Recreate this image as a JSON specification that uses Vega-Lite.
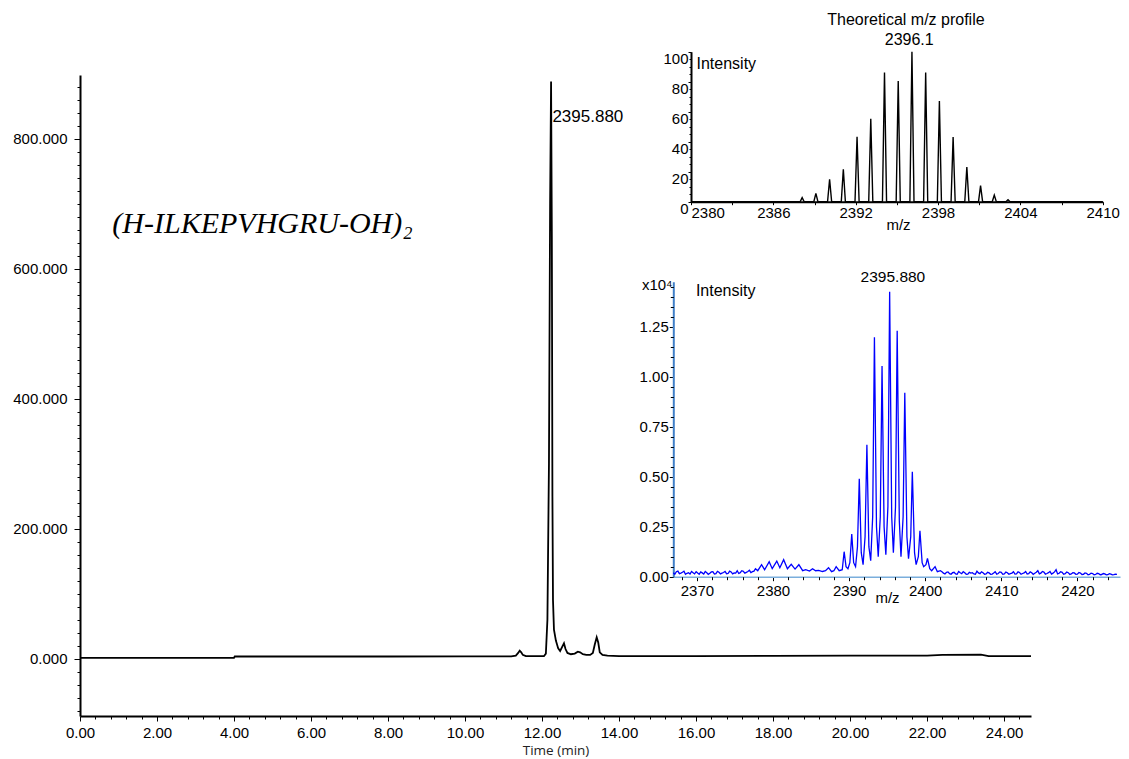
{
  "$schema": "https://vega.github.io/schema/vega-lite/v6.json",
  "width": 951,
  "height": 641,
  "autosize": {"type": "none"},
  "padding": {"left": 80, "top": 75, "right": 98, "bottom": 43},
  "background": "white",
  "config": {
    "view": {"stroke": null},
    "axis": {
      "grid": false,
      "labelFont": "Liberation Sans",
      "titleFont": "Liberation Sans",
      "labelColor": "black",
      "titleColor": "black",
      "titleFontWeight": "normal",
      "domainColor": "black",
      "tickColor": "black",
      "labelFlush": false,
      "labelOverlap": false,
      "labelBound": false,
      "labelFontSize": 15
    },
    "text": {"font": "Liberation Sans"}
  },
  "datasets": {
    "chrom": [
      {"time": 0, "intensity": 1.5}, {"time": 4.0, "intensity": 1.5}, {"time": 4.02, "intensity": 3.5},
      {"time": 6, "intensity": 3.5}, {"time": 8, "intensity": 3.5}, {"time": 10, "intensity": 3.6},
      {"time": 11.2, "intensity": 3.8}, {"time": 11.32, "intensity": 5}, {"time": 11.38, "intensity": 9},
      {"time": 11.42, "intensity": 12.5}, {"time": 11.46, "intensity": 10}, {"time": 11.5, "intensity": 6},
      {"time": 11.58, "intensity": 4}, {"time": 12.05, "intensity": 4}, {"time": 12.1, "intensity": 8},
      {"time": 12.14, "intensity": 60}, {"time": 12.18, "intensity": 300}, {"time": 12.21, "intensity": 700},
      {"time": 12.235, "intensity": 888}, {"time": 12.255, "intensity": 650}, {"time": 12.27, "intensity": 250},
      {"time": 12.285, "intensity": 90}, {"time": 12.31, "intensity": 45}, {"time": 12.36, "intensity": 28},
      {"time": 12.42, "intensity": 16}, {"time": 12.47, "intensity": 12}, {"time": 12.52, "intensity": 18},
      {"time": 12.57, "intensity": 24}, {"time": 12.61, "intensity": 15}, {"time": 12.66, "intensity": 9},
      {"time": 12.75, "intensity": 7}, {"time": 12.85, "intensity": 8}, {"time": 12.93, "intensity": 11},
      {"time": 12.99, "intensity": 10}, {"time": 13.06, "intensity": 7}, {"time": 13.15, "intensity": 6},
      {"time": 13.25, "intensity": 6}, {"time": 13.32, "intensity": 9}, {"time": 13.37, "intensity": 22},
      {"time": 13.42, "intensity": 33}, {"time": 13.46, "intensity": 25}, {"time": 13.5, "intensity": 10},
      {"time": 13.57, "intensity": 6}, {"time": 13.7, "intensity": 5}, {"time": 14, "intensity": 4},
      {"time": 16, "intensity": 4}, {"time": 18, "intensity": 4.5}, {"time": 20, "intensity": 5},
      {"time": 21, "intensity": 4.8}, {"time": 22, "intensity": 5}, {"time": 22.4, "intensity": 6},
      {"time": 23.4, "intensity": 6.3}, {"time": 23.6, "intensity": 4}, {"time": 24.7, "intensity": 4}
    ],
    "theory": [
      {"mz": 2380, "rel": 0},
      {"mz": 2387.95, "rel": 0}, {"mz": 2388.1, "rel": 2.7}, {"mz": 2388.25, "rel": 0},
      {"mz": 2388.95, "rel": 0}, {"mz": 2389.1, "rel": 5.6}, {"mz": 2389.25, "rel": 0},
      {"mz": 2389.95, "rel": 0}, {"mz": 2390.1, "rel": 14.9}, {"mz": 2390.25, "rel": 0},
      {"mz": 2390.95, "rel": 0}, {"mz": 2391.1, "rel": 21.6}, {"mz": 2391.25, "rel": 0},
      {"mz": 2391.95, "rel": 0}, {"mz": 2392.1, "rel": 43.3}, {"mz": 2392.25, "rel": 0},
      {"mz": 2392.95, "rel": 0}, {"mz": 2393.1, "rel": 55.3}, {"mz": 2393.25, "rel": 0},
      {"mz": 2393.95, "rel": 0}, {"mz": 2394.1, "rel": 86.2}, {"mz": 2394.25, "rel": 0},
      {"mz": 2394.95, "rel": 0}, {"mz": 2395.1, "rel": 80.4}, {"mz": 2395.25, "rel": 0},
      {"mz": 2395.95, "rel": 0}, {"mz": 2396.1, "rel": 100}, {"mz": 2396.25, "rel": 0},
      {"mz": 2396.95, "rel": 0}, {"mz": 2397.1, "rel": 86.2}, {"mz": 2397.25, "rel": 0},
      {"mz": 2397.95, "rel": 0}, {"mz": 2398.1, "rel": 67.1}, {"mz": 2398.25, "rel": 0},
      {"mz": 2398.95, "rel": 0}, {"mz": 2399.1, "rel": 43.1}, {"mz": 2399.25, "rel": 0},
      {"mz": 2399.95, "rel": 0}, {"mz": 2400.1, "rel": 23.1}, {"mz": 2400.25, "rel": 0},
      {"mz": 2400.95, "rel": 0}, {"mz": 2401.1, "rel": 10.7}, {"mz": 2401.25, "rel": 0},
      {"mz": 2401.95, "rel": 0}, {"mz": 2402.1, "rel": 4.4}, {"mz": 2402.25, "rel": 0},
      {"mz": 2402.95, "rel": 0}, {"mz": 2403.1, "rel": 1.3}, {"mz": 2403.25, "rel": 0},
      {"mz": 2410, "rel": 0}
    ],
    "measured": [
      {"mz": 2366.9, "int": 0.02}, {"mz": 2367.3, "int": 0.025}, {"mz": 2367.7, "int": 0.015}, {"mz": 2368.1, "int": 0.022},
      {"mz": 2368.5, "int": 0.012}, {"mz": 2368.9, "int": 0.02}, {"mz": 2369.3, "int": 0.026}, {"mz": 2369.7, "int": 0.014},
      {"mz": 2370.1, "int": 0.018}, {"mz": 2370.5, "int": 0.024}, {"mz": 2370.9, "int": 0.013}, {"mz": 2371.3, "int": 0.02},
      {"mz": 2371.7, "int": 0.017}, {"mz": 2372.1, "int": 0.025}, {"mz": 2372.5, "int": 0.015}, {"mz": 2372.9, "int": 0.022},
      {"mz": 2373.3, "int": 0.018}, {"mz": 2373.7, "int": 0.026}, {"mz": 2374.1, "int": 0.016}, {"mz": 2374.5, "int": 0.024},
      {"mz": 2374.9, "int": 0.019}, {"mz": 2375.3, "int": 0.03}, {"mz": 2375.7, "int": 0.02}, {"mz": 2376.1, "int": 0.027},
      {"mz": 2376.5, "int": 0.022}, {"mz": 2376.9, "int": 0.032}, {"mz": 2377.3, "int": 0.025}, {"mz": 2377.7, "int": 0.04},
      {"mz": 2378.0, "int": 0.03}, {"mz": 2378.5, "int": 0.06}, {"mz": 2378.9, "int": 0.035}, {"mz": 2379.5, "int": 0.075},
      {"mz": 2379.9, "int": 0.04}, {"mz": 2380.5, "int": 0.078}, {"mz": 2380.9, "int": 0.045}, {"mz": 2381.4, "int": 0.085},
      {"mz": 2381.9, "int": 0.04}, {"mz": 2382.4, "int": 0.062}, {"mz": 2382.9, "int": 0.038}, {"mz": 2383.4, "int": 0.06},
      {"mz": 2383.9, "int": 0.03}, {"mz": 2384.3, "int": 0.035}, {"mz": 2384.8, "int": 0.028}, {"mz": 2385.2, "int": 0.04},
      {"mz": 2385.6, "int": 0.03}, {"mz": 2386.0, "int": 0.032}, {"mz": 2386.5, "int": 0.026}, {"mz": 2386.9, "int": 0.03},
      {"mz": 2387.3, "int": 0.045}, {"mz": 2387.7, "int": 0.025}, {"mz": 2388.0, "int": 0.03}, {"mz": 2388.3, "int": 0.05},
      {"mz": 2388.7, "int": 0.03}, {"mz": 2389.1, "int": 0.035}, {"mz": 2389.35, "int": 0.125}, {"mz": 2389.6, "int": 0.05},
      {"mz": 2389.85, "int": 0.04}, {"mz": 2390.1, "int": 0.07}, {"mz": 2390.35, "int": 0.213}, {"mz": 2390.6, "int": 0.07},
      {"mz": 2390.85, "int": 0.05}, {"mz": 2391.1, "int": 0.15}, {"mz": 2391.34, "int": 0.49}, {"mz": 2391.6, "int": 0.12},
      {"mz": 2391.84, "int": 0.06}, {"mz": 2392.1, "int": 0.2}, {"mz": 2392.34, "int": 0.66}, {"mz": 2392.6, "int": 0.15},
      {"mz": 2392.84, "int": 0.08}, {"mz": 2393.1, "int": 0.3}, {"mz": 2393.33, "int": 1.197}, {"mz": 2393.6, "int": 0.25},
      {"mz": 2393.83, "int": 0.1}, {"mz": 2394.1, "int": 0.3}, {"mz": 2394.33, "int": 1.053}, {"mz": 2394.6, "int": 0.25},
      {"mz": 2394.83, "int": 0.11}, {"mz": 2395.1, "int": 0.35}, {"mz": 2395.33, "int": 1.425}, {"mz": 2395.6, "int": 0.3},
      {"mz": 2395.82, "int": 0.12}, {"mz": 2396.1, "int": 0.35}, {"mz": 2396.32, "int": 1.23}, {"mz": 2396.6, "int": 0.28},
      {"mz": 2396.82, "int": 0.1}, {"mz": 2397.1, "int": 0.3}, {"mz": 2397.32, "int": 0.92}, {"mz": 2397.6, "int": 0.2},
      {"mz": 2397.81, "int": 0.09}, {"mz": 2398.1, "int": 0.2}, {"mz": 2398.31, "int": 0.525}, {"mz": 2398.6, "int": 0.12},
      {"mz": 2398.81, "int": 0.06}, {"mz": 2399.1, "int": 0.1}, {"mz": 2399.31, "int": 0.23}, {"mz": 2399.6, "int": 0.07},
      {"mz": 2399.8, "int": 0.05}, {"mz": 2400.1, "int": 0.06}, {"mz": 2400.3, "int": 0.092}, {"mz": 2400.6, "int": 0.04},
      {"mz": 2400.85, "int": 0.03}, {"mz": 2401.3, "int": 0.05}, {"mz": 2401.6, "int": 0.025}, {"mz": 2402.0, "int": 0.03},
      {"mz": 2402.4, "int": 0.018}, {"mz": 2402.8, "int": 0.022}, {"mz": 2403.2, "int": 0.015}, {"mz": 2403.6, "int": 0.02},
      {"mz": 2404.0, "int": 0.014}, {"mz": 2404.4, "int": 0.026}, {"mz": 2404.8, "int": 0.015}, {"mz": 2405.2, "int": 0.02},
      {"mz": 2405.6, "int": 0.013}, {"mz": 2406.0, "int": 0.018}, {"mz": 2406.4, "int": 0.014}, {"mz": 2406.8, "int": 0.028},
      {"mz": 2407.2, "int": 0.015}, {"mz": 2407.6, "int": 0.02}, {"mz": 2408.0, "int": 0.014}, {"mz": 2408.4, "int": 0.019},
      {"mz": 2408.8, "int": 0.013}, {"mz": 2409.2, "int": 0.025}, {"mz": 2409.6, "int": 0.016}, {"mz": 2410.0, "int": 0.022},
      {"mz": 2410.4, "int": 0.014}, {"mz": 2410.8, "int": 0.02}, {"mz": 2411.2, "int": 0.015}, {"mz": 2411.6, "int": 0.025},
      {"mz": 2412.0, "int": 0.014}, {"mz": 2412.4, "int": 0.021}, {"mz": 2412.8, "int": 0.016}, {"mz": 2413.2, "int": 0.026},
      {"mz": 2413.6, "int": 0.015}, {"mz": 2414.0, "int": 0.02}, {"mz": 2414.4, "int": 0.017}, {"mz": 2414.8, "int": 0.03},
      {"mz": 2415.2, "int": 0.018}, {"mz": 2415.6, "int": 0.023}, {"mz": 2416.0, "int": 0.016}, {"mz": 2416.4, "int": 0.026},
      {"mz": 2416.8, "int": 0.018}, {"mz": 2417.2, "int": 0.035}, {"mz": 2417.6, "int": 0.017}, {"mz": 2418.0, "int": 0.022},
      {"mz": 2418.4, "int": 0.015}, {"mz": 2418.8, "int": 0.02}, {"mz": 2419.2, "int": 0.014}, {"mz": 2419.6, "int": 0.019},
      {"mz": 2420.0, "int": 0.013}, {"mz": 2420.4, "int": 0.018}, {"mz": 2420.8, "int": 0.012}, {"mz": 2421.2, "int": 0.017},
      {"mz": 2421.6, "int": 0.012}, {"mz": 2422.0, "int": 0.016}, {"mz": 2422.4, "int": 0.011}, {"mz": 2422.8, "int": 0.015},
      {"mz": 2423.2, "int": 0.011}, {"mz": 2423.6, "int": 0.014}, {"mz": 2424.0, "int": 0.01}, {"mz": 2424.4, "int": 0.013},
      {"mz": 2424.8, "int": 0.01}, {"mz": 2425.2, "int": 0.012},
      {"mz": 2367.1, "int": 0.012}, {"mz": 2367.5, "int": 0.028}, {"mz": 2367.9, "int": 0.018}, {"mz": 2368.3, "int": 0.027},
      {"mz": 2368.7, "int": 0.017}, {"mz": 2369.1, "int": 0.013}, {"mz": 2369.5, "int": 0.02}, {"mz": 2369.9, "int": 0.025},
      {"mz": 2370.3, "int": 0.012}, {"mz": 2370.7, "int": 0.019}, {"mz": 2371.1, "int": 0.026}, {"mz": 2371.5, "int": 0.012},
      {"mz": 2371.9, "int": 0.024}, {"mz": 2372.3, "int": 0.013}, {"mz": 2372.7, "int": 0.027}, {"mz": 2373.1, "int": 0.014},
      {"mz": 2373.5, "int": 0.021}, {"mz": 2373.9, "int": 0.015}, {"mz": 2374.3, "int": 0.028}, {"mz": 2374.7, "int": 0.014},
      {"mz": 2375.1, "int": 0.018}, {"mz": 2375.5, "int": 0.016}, {"mz": 2375.9, "int": 0.03}, {"mz": 2376.3, "int": 0.018},
      {"mz": 2376.7, "int": 0.026}, {"mz": 2377.1, "int": 0.02}, {"mz": 2377.5, "int": 0.028},
      {"mz": 2402.2, "int": 0.025}, {"mz": 2402.6, "int": 0.014}, {"mz": 2403.0, "int": 0.024}, {"mz": 2403.4, "int": 0.012},
      {"mz": 2403.8, "int": 0.022}, {"mz": 2404.2, "int": 0.012}, {"mz": 2404.6, "int": 0.02}, {"mz": 2405.0, "int": 0.025},
      {"mz": 2405.4, "int": 0.012}, {"mz": 2405.8, "int": 0.022}, {"mz": 2406.2, "int": 0.02}, {"mz": 2406.6, "int": 0.012},
      {"mz": 2407.0, "int": 0.019}, {"mz": 2407.4, "int": 0.024}, {"mz": 2407.8, "int": 0.012}, {"mz": 2408.2, "int": 0.022},
      {"mz": 2408.6, "int": 0.012}, {"mz": 2409.0, "int": 0.018}, {"mz": 2409.4, "int": 0.013}, {"mz": 2409.8, "int": 0.024},
      {"mz": 2410.2, "int": 0.012}, {"mz": 2410.6, "int": 0.023}, {"mz": 2411.0, "int": 0.012}, {"mz": 2411.4, "int": 0.018},
      {"mz": 2411.8, "int": 0.013}, {"mz": 2412.2, "int": 0.024}, {"mz": 2412.6, "int": 0.012}, {"mz": 2413.0, "int": 0.019},
      {"mz": 2413.4, "int": 0.013}, {"mz": 2413.8, "int": 0.024}, {"mz": 2414.2, "int": 0.012}, {"mz": 2414.6, "int": 0.022},
      {"mz": 2415.0, "int": 0.014}, {"mz": 2415.4, "int": 0.026}, {"mz": 2415.8, "int": 0.013}, {"mz": 2416.2, "int": 0.02},
      {"mz": 2416.6, "int": 0.013}, {"mz": 2417.0, "int": 0.024}, {"mz": 2417.4, "int": 0.014}, {"mz": 2417.8, "int": 0.025},
      {"mz": 2418.2, "int": 0.012}, {"mz": 2418.6, "int": 0.023}, {"mz": 2419.0, "int": 0.011}, {"mz": 2419.4, "int": 0.02},
      {"mz": 2419.8, "int": 0.012}, {"mz": 2420.2, "int": 0.021}, {"mz": 2420.6, "int": 0.011}, {"mz": 2421.0, "int": 0.019},
      {"mz": 2421.4, "int": 0.01}, {"mz": 2421.8, "int": 0.018}, {"mz": 2422.2, "int": 0.01}, {"mz": 2422.6, "int": 0.017},
      {"mz": 2423.0, "int": 0.01}, {"mz": 2423.4, "int": 0.016}, {"mz": 2423.8, "int": 0.009}, {"mz": 2424.2, "int": 0.015},
      {"mz": 2424.6, "int": 0.009}, {"mz": 2425.0, "int": 0.013}
    ]
  },
  "layer": [
    {
      "data": {"name": "chrom"},
      "mark": {"type": "line", "color": "black", "strokeWidth": 1.8},
      "encoding": {
        "x": {
          "field": "time", "type": "quantitative",
          "scale": {"domain": [0, 24.7], "nice": false, "zero": false},
          "axis": {
            "orient": "bottom",
            "title": "Time (min)",
            "titleFont": "Open Sans",
            "titleFontSize": 13.5,
            "titleColor": "#222222",
            "titlePadding": 3,
            "domainWidth": 2,
            "values": [0, 2, 4, 6, 8, 10, 12, 14, 16, 18, 20, 22, 24],
            "format": ".2f",
            "tickSize": 5,
            "labelPadding": 4
          }
        },
        "y": {
          "field": "intensity", "type": "quantitative",
          "scale": {"domain": [-88, 898], "nice": false, "zero": false},
          "axis": {
            "orient": "left",
            "title": null,
            "domainWidth": 2,
            "values": [0, 200, 400, 600, 800],
            "format": ".3f",
            "tickSize": 6,
            "labelPadding": 7
          }
        }
      }
    },
    {
      "data": {"name": "chrom"},
      "mark": {"type": "line", "opacity": 0},
      "encoding": {
        "x": {
          "field": "time", "type": "quantitative",
          "scale": {"domain": [0, 24.7], "nice": false, "zero": false},
          "axis": {
            "orient": "bottom",
            "title": null,
            "domain": false,
            "labels": false,
            "values": [0.4,0.8,1.2,1.6,2.4,2.8,3.2,3.6,4.4,4.8,5.2,5.6,6.4,6.8,7.2,7.6,8.4,8.8,9.2,9.6,10.4,10.8,11.2,11.6,12.4,12.8,13.2,13.6,14.4,14.8,15.2,15.6,16.4,16.8,17.2,17.6,18.4,18.8,19.2,19.6,20.4,20.8,21.2,21.6,22.4,22.8,23.2,23.6,24.4],
            "tickSize": 3
          }
        },
        "y": {
          "field": "intensity", "type": "quantitative",
          "scale": {"domain": [-88, 898], "nice": false, "zero": false},
          "axis": {
            "orient": "left",
            "title": null,
            "domain": false,
            "labels": false,
            "values": [-80,-60,-40,-20,20,40,60,80,100,120,140,160,180,220,240,260,280,300,320,340,360,380,420,440,460,480,500,520,540,560,580,620,640,660,680,700,720,740,760,780,820,840,860,880],
            "tickSize": 3
          }
        }
      }
    },
    {
      "data": {"values": [{"time": 0.84, "intensity": 655, "label": "(H-ILKEPVHGRU-OH)₂"}]},
      "mark": {"type": "text", "font": "Liberation Serif", "fontStyle": "italic", "fontSize": 30, "align": "left", "baseline": "alphabetic", "color": "black"},
      "encoding": {
        "x": {"field": "time", "type": "quantitative", "scale": {"domain": [0, 24.7], "nice": false, "zero": false}, "axis": null},
        "y": {"field": "intensity", "type": "quantitative", "scale": {"domain": [-88, 898], "nice": false, "zero": false}, "axis": null},
        "text": {"field": "label"}
      }
    },
    {
      "data": {"values": [{"time": 12.27, "intensity": 834, "label": "2395.880"}]},
      "mark": {"type": "text", "fontSize": 17, "align": "left", "baseline": "middle", "color": "black"},
      "encoding": {
        "x": {"field": "time", "type": "quantitative", "scale": {"domain": [0, 24.7], "nice": false, "zero": false}, "axis": null},
        "y": {"field": "intensity", "type": "quantitative", "scale": {"domain": [-88, 898], "nice": false, "zero": false}, "axis": null},
        "text": {"field": "label"}
      }
    },
    {
      "data": {"name": "theory"},
      "mark": {"type": "line", "color": "black", "strokeWidth": 1.4},
      "encoding": {
        "x": {
          "field": "mz", "type": "quantitative",
          "scale": {"domain": [2380, 2410], "range": [611, 1022.7], "nice": false, "zero": false},
          "axis": {
            "orient": "bottom",
            "offset": -514.3,
            "title": "m/z",
            "titleFontSize": 15,
            "titleX": 818,
            "titleY": 23,
            "titleBaseline": "middle",
            "domainWidth": 2,
            "values": [2386, 2392, 2398, 2404, 2410],
            "format": "d",
            "tickSize": 3,
            "labelPadding": 1,
            "labelDx": 5
          }
        },
        "y": {
          "field": "rel", "type": "quantitative",
          "scale": {"domain": [0, 100], "range": [126.7, -23.3], "nice": false, "zero": false},
          "axis": {
            "orient": "left",
            "offset": -611,
            "title": null,
            "domainWidth": 2,
            "values": [20, 40, 60, 80, 100],
            "format": "d",
            "labelBaseline": "top",
            "tickSize": 3,
            "labelPadding": 0
          }
        }
      }
    },
    {
      "data": {"name": "theory"},
      "mark": {"type": "line", "opacity": 0},
      "encoding": {
        "x": {
          "field": "mz", "type": "quantitative",
          "scale": {"domain": [2380, 2410], "range": [611, 1022.7], "nice": false, "zero": false},
          "axis": {
            "orient": "bottom",
            "offset": -514.3,
            "title": null,
            "domain": false,
            "labels": false,
            "values": [2383, 2389, 2395, 2401, 2407],
            "tickSize": 3
          }
        },
        "y": {
          "field": "rel", "type": "quantitative",
          "scale": {"domain": [0, 100], "range": [126.7, -23.3], "nice": false, "zero": false},
          "axis": {
            "orient": "left",
            "offset": -611,
            "title": null,
            "domain": false,
            "labels": false,
            "values": [5,10,15,25,30,35,45,50,55,65,70,75,85,90,95],
            "tickSize": 2
          }
        }
      }
    },
    {
      "data": {"name": "theory"},
      "mark": {"type": "line", "opacity": 0},
      "encoding": {
        "x": {
          "field": "mz", "type": "quantitative",
          "scale": {"domain": [2380, 2410], "range": [611, 1022.7], "nice": false, "zero": false},
          "axis": {
            "orient": "bottom",
            "offset": -514.3,
            "title": null,
            "domain": false,
            "values": [2380],
            "format": "d",
            "labelAlign": "left",
            "labelDx": 1,
            "tickSize": 3,
            "labelPadding": 1
          }
        },
        "y": {
          "field": "rel", "type": "quantitative",
          "scale": {"domain": [0, 100], "range": [126.7, -23.3], "nice": false, "zero": false},
          "axis": {
            "orient": "left",
            "offset": -611,
            "title": null,
            "domain": false,
            "values": [0],
            "format": "d",
            "labelBaseline": "top",
            "labelDx": -16,
            "tickSize": 3,
            "labelPadding": 0
          }
        }
      }
    },
    {
      "data": {"values": [
        {"mz": 2395.66, "rel": 121.1, "label": "Theoretical m/z profile"},
        {"mz": 2395.9, "rel": 107.8, "label": "2396.1"}
      ]},
      "mark": {"type": "text", "fontSize": 16, "align": "center", "baseline": "middle", "color": "black"},
      "encoding": {
        "x": {"field": "mz", "type": "quantitative", "scale": {"domain": [2380, 2410], "range": [611, 1022.7], "nice": false, "zero": false}, "axis": null},
        "y": {"field": "rel", "type": "quantitative", "scale": {"domain": [0, 100], "range": [126.7, -23.3], "nice": false, "zero": false}, "axis": null},
        "text": {"field": "label"}
      }
    },
    {
      "data": {"values": [{"mz": 2380.4, "rel": 91.8, "label": "Intensity"}]},
      "mark": {"type": "text", "fontSize": 16, "align": "left", "baseline": "middle", "color": "black"},
      "encoding": {
        "x": {"field": "mz", "type": "quantitative", "scale": {"domain": [2380, 2410], "range": [611, 1022.7], "nice": false, "zero": false}, "axis": null},
        "y": {"field": "rel", "type": "quantitative", "scale": {"domain": [0, 100], "range": [126.7, -23.3], "nice": false, "zero": false}, "axis": null},
        "text": {"field": "label"}
      }
    },
    {
      "data": {"name": "measured"},
      "mark": {"type": "line", "color": "#0000ff", "strokeWidth": 1.3},
      "encoding": {
        "x": {
          "field": "mz", "type": "quantitative",
          "scale": {"domain": [2366.9, 2425.6], "range": [593.3, 1040], "nice": false, "zero": false},
          "axis": {
            "orient": "bottom",
            "offset": -139.3,
            "title": "m/z",
            "titleFontSize": 15,
            "titleX": 807,
            "titleY": 21,
            "titleBaseline": "middle",
            "domainWidth": 1.5,
            "domainColor": "#7aaedc",
            "values": [2370, 2380, 2390, 2400, 2410, 2420],
            "format": "d",
            "tickSize": 4,
            "labelPadding": 3,
            "labelDx": 4
          }
        },
        "y": {
          "field": "int", "type": "quantitative",
          "scale": {"domain": [0, 1.475], "range": [501.7, 206.7], "nice": false, "zero": false},
          "axis": {
            "orient": "left",
            "offset": -593.3,
            "title": null,
            "domainWidth": 2,
            "domainColor": "#3f7fc8",
            "values": [0, 0.25, 0.5, 0.75, 1, 1.25],
            "format": ".2f",
            "tickSize": 4,
            "labelBaseline": "middle",
            "labelDy": 2,
            "labelPadding": 1
          }
        }
      }
    },
    {
      "data": {"name": "measured"},
      "mark": {"type": "line", "opacity": 0},
      "encoding": {
        "x": {
          "field": "mz", "type": "quantitative",
          "scale": {"domain": [2366.9, 2425.6], "range": [593.3, 1040], "nice": false, "zero": false},
          "axis": {
            "orient": "bottom",
            "offset": -139.3,
            "title": null,
            "domain": false,
            "labels": false,
            "values": [2368,2372,2374,2376,2378,2382,2384,2386,2388,2392,2394,2396,2398,2402,2404,2406,2408,2412,2414,2416,2418,2422,2424],
            "tickSize": 3
          }
        },
        "y": {
          "field": "int", "type": "quantitative",
          "scale": {"domain": [0, 1.475], "range": [501.7, 206.7], "nice": false, "zero": false},
          "axis": {
            "orient": "left",
            "offset": -593.3,
            "title": null,
            "domain": false,
            "labels": false,
            "values": [0.05,0.1,0.15,0.2,0.3,0.35,0.4,0.45,0.55,0.6,0.65,0.7,0.8,0.85,0.9,0.95,1.05,1.1,1.15,1.2,1.3,1.35,1.4,1.45],
            "tickSize": 3
          }
        }
      }
    },
    {
      "data": {"values": [{"mz": 2395.76, "int": 1.5, "label": "2395.880"}]},
      "mark": {"type": "text", "fontSize": 15.5, "align": "center", "baseline": "middle", "color": "black"},
      "encoding": {
        "x": {"field": "mz", "type": "quantitative", "scale": {"domain": [2366.9, 2425.6], "range": [593.3, 1040], "nice": false, "zero": false}, "axis": null},
        "y": {"field": "int", "type": "quantitative", "scale": {"domain": [0, 1.475], "range": [501.7, 206.7], "nice": false, "zero": false}, "axis": null},
        "text": {"field": "label"}
      }
    },
    {
      "data": {"values": [{"mz": 2369.87, "int": 1.43, "label": "Intensity"}]},
      "mark": {"type": "text", "fontSize": 16, "align": "left", "baseline": "middle", "color": "black"},
      "encoding": {
        "x": {"field": "mz", "type": "quantitative", "scale": {"domain": [2366.9, 2425.6], "range": [593.3, 1040], "nice": false, "zero": false}, "axis": null},
        "y": {"field": "int", "type": "quantitative", "scale": {"domain": [0, 1.475], "range": [501.7, 206.7], "nice": false, "zero": false}, "axis": null},
        "text": {"field": "label"}
      }
    },
    {
      "data": {"values": [{"mz": 2366.8, "int": 1.46, "label": "x10⁴"}]},
      "mark": {"type": "text", "fontSize": 15, "align": "right", "baseline": "middle", "color": "black"},
      "encoding": {
        "x": {"field": "mz", "type": "quantitative", "scale": {"domain": [2366.9, 2425.6], "range": [593.3, 1040], "nice": false, "zero": false}, "axis": null},
        "y": {"field": "int", "type": "quantitative", "scale": {"domain": [0, 1.475], "range": [501.7, 206.7], "nice": false, "zero": false}, "axis": null},
        "text": {"field": "label"}
      }
    }
  ],
  "resolve": {"scale": {"x": "independent", "y": "independent"}}
}
